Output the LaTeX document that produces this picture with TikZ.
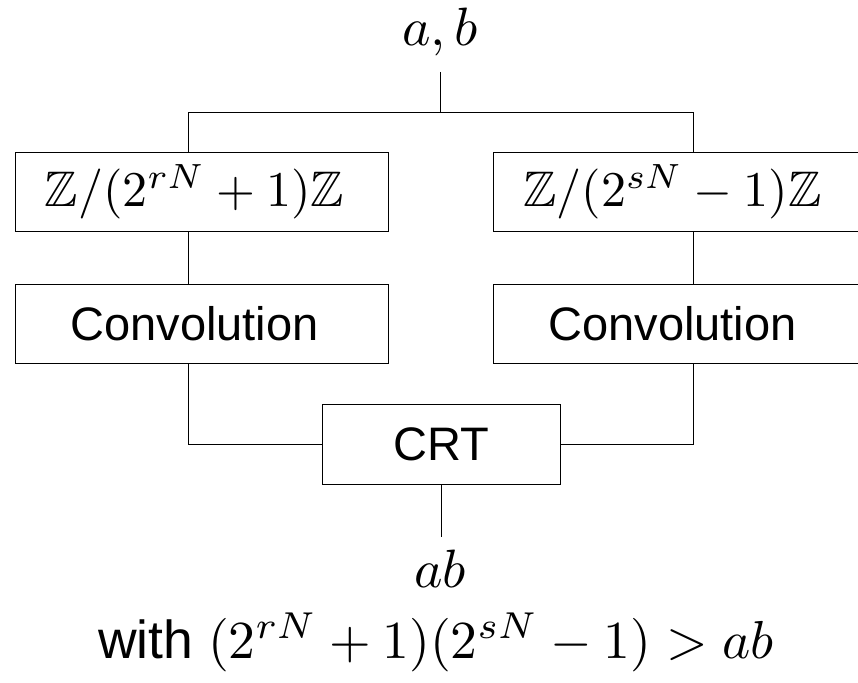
\documentclass[tikz,border=0pt]{standalone}
\usepackage{graphicx}
\usepackage{amssymb}
\usepackage{fontspec}
\setsansfont{Liberation Sans}
\newcommand{\bigtxt}[1]{\scalebox{4.7}{#1}}
\tikzset{
  blk/.style={draw, line width=1pt, minimum width=373pt, minimum height=79pt, inner sep=0pt},
  sideblk/.style={blk, execute at end node={\hspace*{14pt}}},
  lbl/.style={inner sep=0pt},
  conn/.style={line width=1pt}
}
\begin{document}
\begin{tikzpicture}[x=1pt,y=-1pt]
\useasboundingbox (0,0) rectangle (858,682);
\clip (0,0) rectangle (858,682);
\node[lbl, anchor=base] (ab) at (440,46) {\scalebox{5.4}{$a,b$}};
\node[sideblk] (Lz) at (201.5,191.5) {\scalebox{5.0}{$\mathbb{Z}/(2^{rN}+1)\mathbb{Z}$}};
\node[sideblk] (Rz) at (679.5,191.5) {\scalebox{5.0}{$\mathbb{Z}/(2^{sN}-1)\mathbb{Z}$}};
\node[sideblk] (Lc) at (201.5,324) {\bigtxt{\sffamily Convolution}};
\node[sideblk] (Rc) at (679.5,324) {\bigtxt{\sffamily Convolution}};
\node[blk, minimum width=238pt, minimum height=80pt] (crt) at (441,444) {\bigtxt{\sffamily CRT}};
\node[lbl, anchor=base] (prod) at (440,587) {\scalebox{5.4}{$ab$}};
\node[lbl, anchor=base] (cond) at (436,658) {\scalebox{5.35}{\sffamily with $(2^{rN}+1)(2^{sN}-1)>ab$}};
\coordinate (t) at (440,72);
\coordinate (s) at (440,112);
\coordinate (sL) at (188,112);
\coordinate (sR) at (693,112);
\coordinate (b) at (441,537);
\draw[conn] (t) -- (s);
\draw[conn] (sL |- Lz.north) -- (sL) -- (sR) -- (sR |- Rz.north);
\draw[conn] (sL |- Lz.south) -- (sL |- Lc.north);
\draw[conn] (sR |- Rz.south) -- (sR |- Rc.north);
\draw[conn] (sL |- Lc.south) -- (sL |- crt.west) -- (crt.west);
\draw[conn] (sR |- Rc.south) -- (sR |- crt.east) -- (crt.east);
\draw[conn] (crt.south) -- (b);
\end{tikzpicture}
\end{document}
